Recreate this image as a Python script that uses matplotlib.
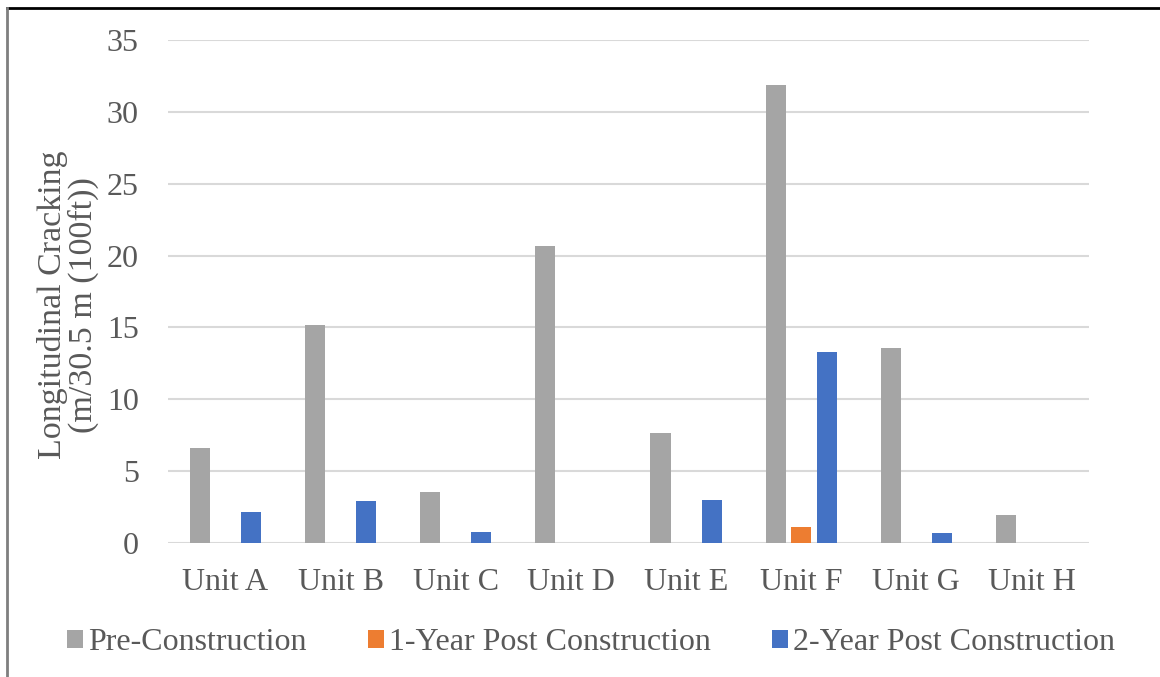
import numpy as np
import matplotlib.pyplot as plt
from matplotlib.lines import Line2D

units = ['Unit A', 'Unit B', 'Unit C', 'Unit D', 'Unit E', 'Unit F', 'Unit G', 'Unit H']
pre_construction = [6.6, 15.15, 3.55, 20.65, 7.65, 31.85, 13.6, 1.93]
one_year_post = [0, 0, 0, 0, 0, 1.1, 0, 0]
two_year_post = [2.16, 2.92, 0.75, 0, 2.98, 13.26, 0.7, 0]

series_names = ['Pre-Construction', '1-Year Post Construction', '2-Year Post Construction']
colors = ['#A5A5A5', '#ED7D31', '#4472C4']

plt.rcParams['font.family'] = ['Liberation Serif', 'DejaVu Serif']
text_color = '#595959'

fig = plt.figure(figsize=(11.6, 6.77), dpi=100)
ax = fig.add_axes([168 / 1160, 1 - 543 / 677, 921 / 1160, 503 / 677])

x = np.arange(len(units))
bar_w = 0.174
step = 0.222
for i, (vals, name, col) in enumerate(zip([pre_construction, one_year_post, two_year_post], series_names, colors)):
    ax.bar(x + (i - 1) * step, vals, width=bar_w, color=col, label=name, zorder=3)

ax.set_xlim(-0.5, len(units) - 0.5)
ax.set_ylim(0, 35)
ax.set_yticks(range(0, 36, 5))
ax.set_xticks(x)
ax.set_xticklabels(units)
ax.tick_params(axis='both', length=0, labelsize=23, colors=text_color)
ax.tick_params(axis='x', pad=18)
ax.tick_params(axis='y', pad=21)
ax.grid(axis='y', color='#D9D9D9', linewidth=1.5, zorder=0)
for s in ax.spines.values():
    s.set_visible(False)
ax.set_ylabel('Longitudinal Cracking\n(m/30.5 m (100ft))', fontsize=24.5, color=text_color,
              linespacing=1.0)
ax.yaxis.set_label_coords((99 - 168) / 921, (543 - 305) / 503)

leg = fig.legend(loc='center', bbox_to_anchor=(591 / 1160, 1 - 643 / 677), ncol=3, frameon=False,
                 fontsize=23, handlelength=0.5, handleheight=0.5, handletextpad=0.15,
                 columnspacing=1.93)
for t in leg.get_texts():
    t.set_color(text_color)

# chart border (top and left only visible)
fig.add_artist(Line2D([7 / 1160, 1.0], [1 - 8 / 677, 1 - 8 / 677], transform=fig.transFigure,
                      color='black', linewidth=2))
fig.add_artist(Line2D([7 / 1160, 7 / 1160], [0, 1 - 8 / 677], transform=fig.transFigure,
                      color='#7F7F7F', linewidth=2))

fig.savefig('out.png', dpi=100)
